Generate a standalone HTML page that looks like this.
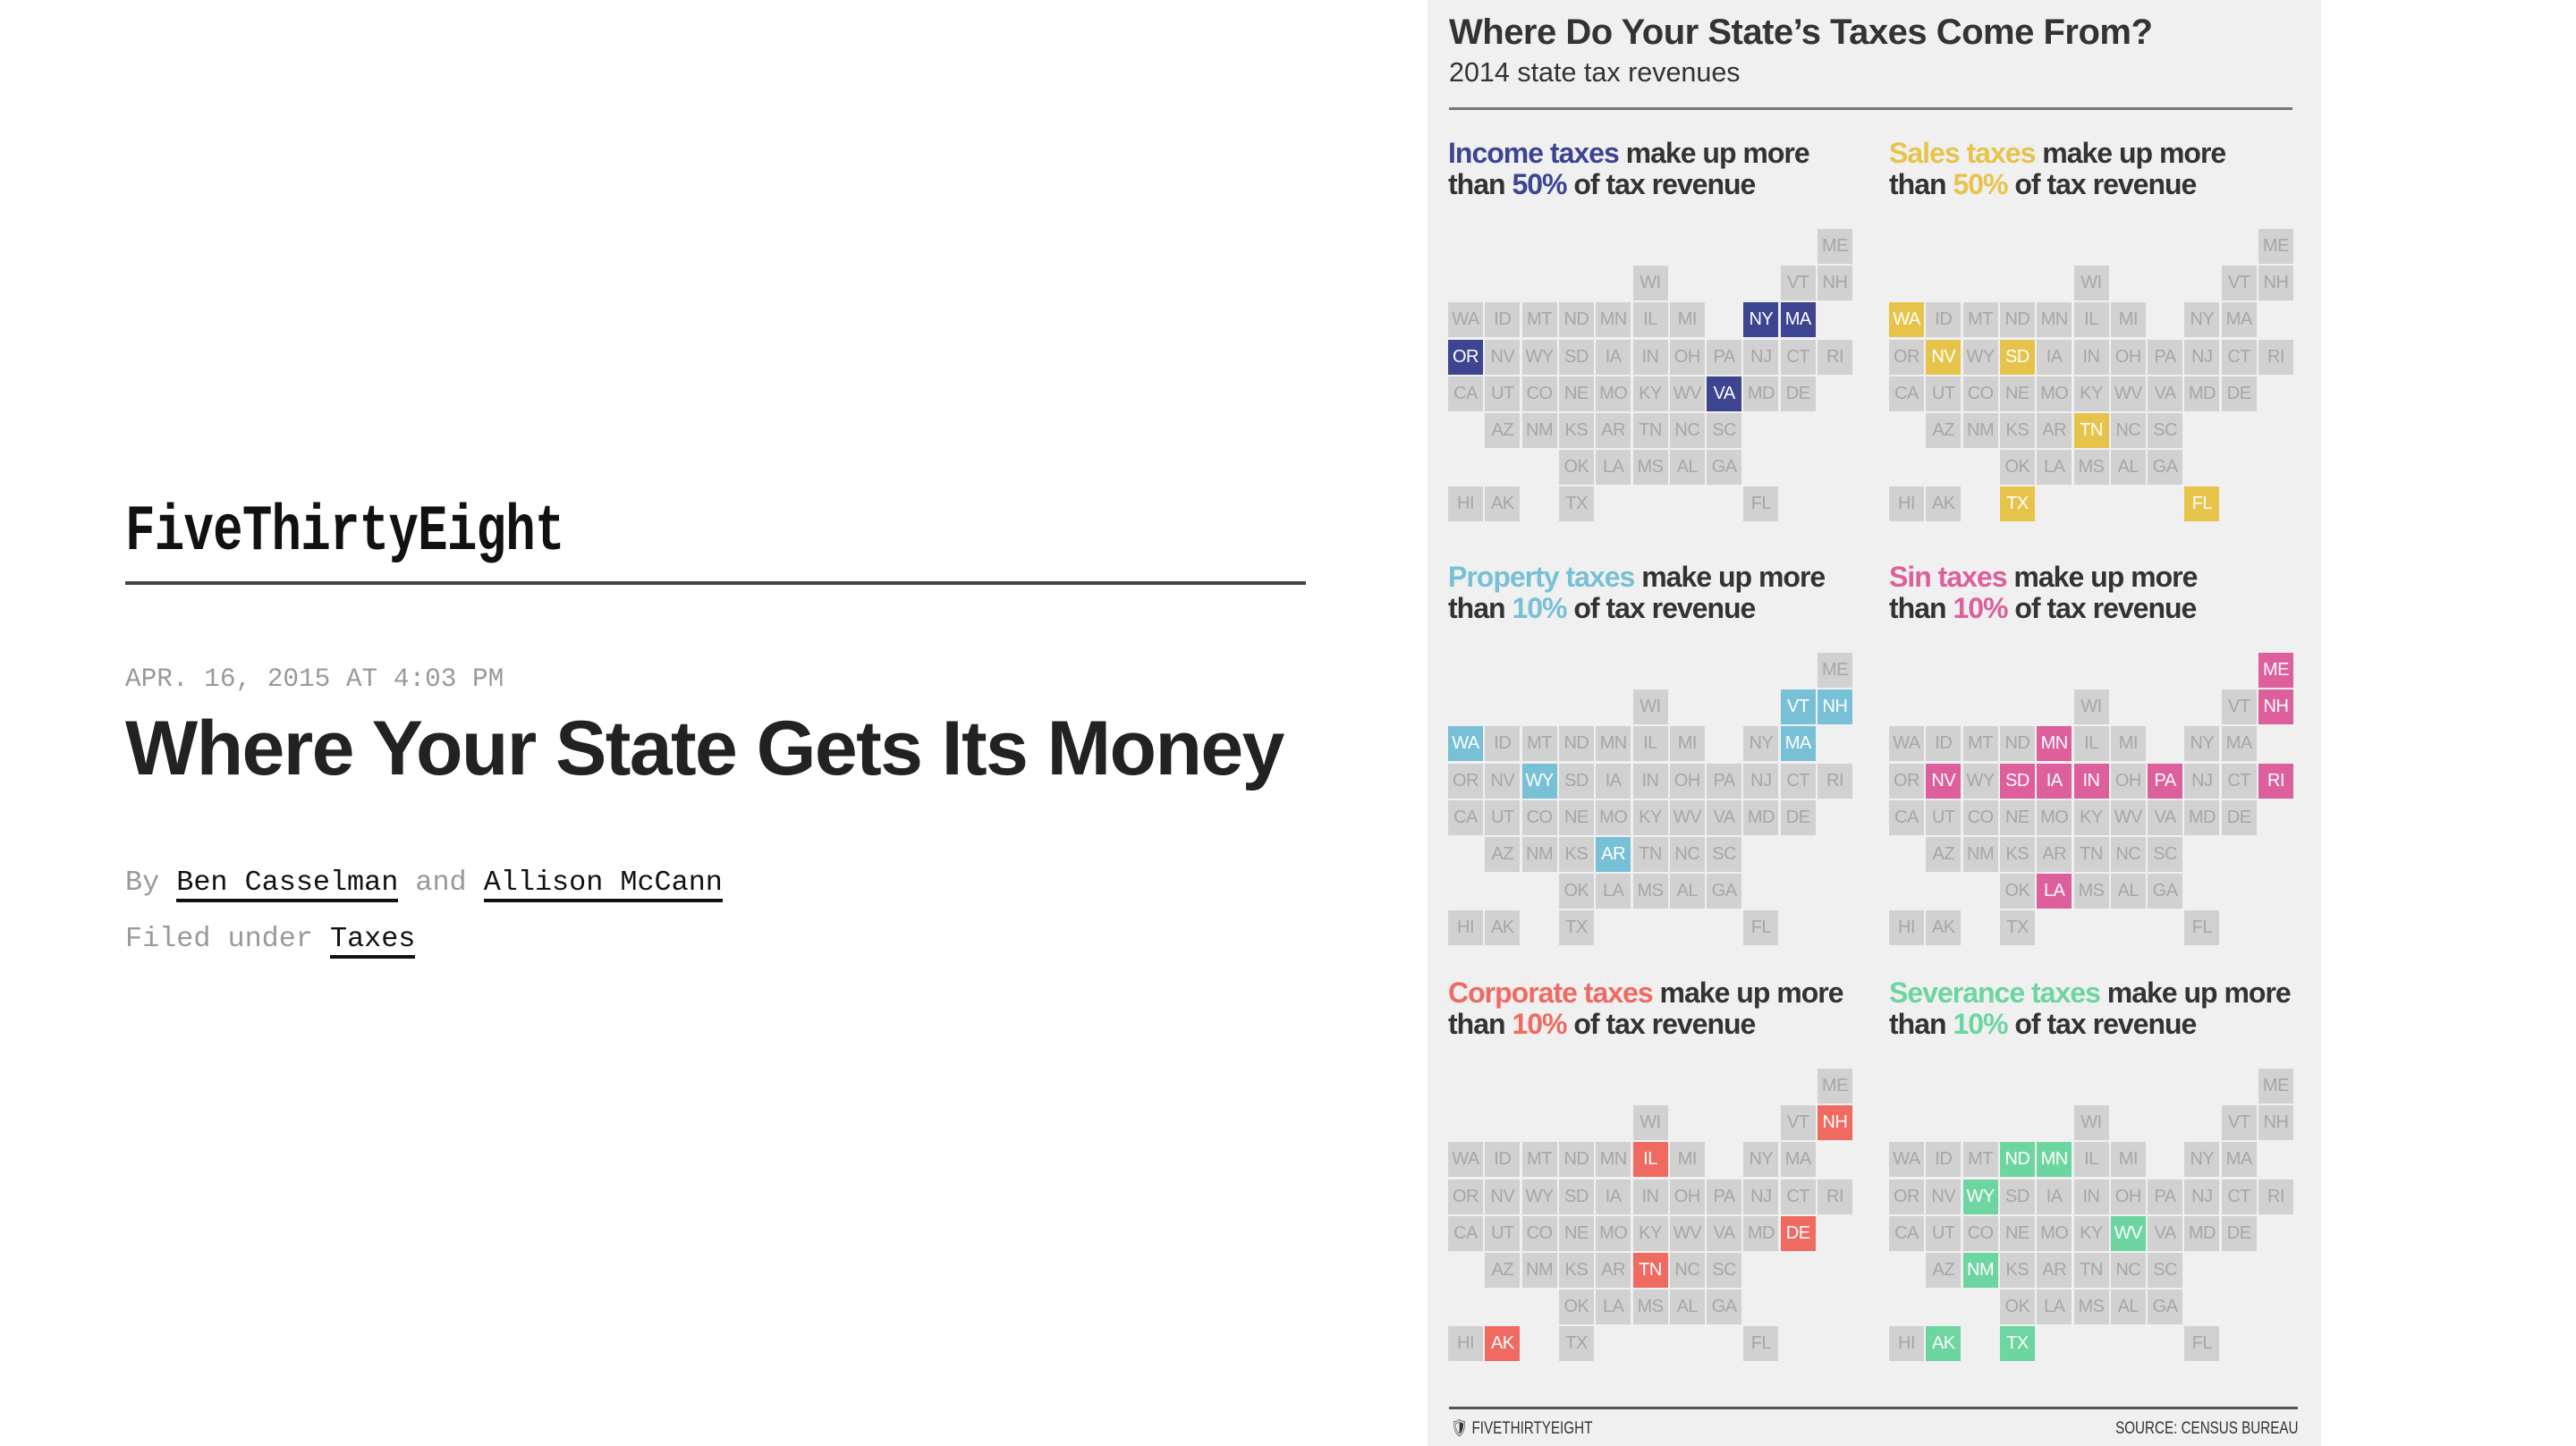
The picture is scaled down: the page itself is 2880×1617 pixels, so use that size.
<!DOCTYPE html>
<html><head><meta charset="utf-8">
<style>
*{margin:0;padding:0;box-sizing:border-box}
body{width:2880px;height:1617px;background:#fff;position:relative;overflow:hidden;font-family:"Liberation Sans",sans-serif}
.a{position:absolute;white-space:nowrap}
.mono{font-family:"Liberation Mono",monospace}
#panel{position:absolute;left:1596px;top:0;width:999px;height:1617px;background:#f0f0f0}
.t{position:absolute;width:39px;height:39px;background:#d1d1d1;color:#a6a6a6;font-size:20px;line-height:39px;text-align:center;letter-spacing:-0.5px}
.h{font-size:32px;line-height:35px;font-weight:bold;color:#333;letter-spacing:-1px}
.u{border-bottom:4px solid #111;color:#111}
</style></head><body>
<div class="a mono" style="left:140px;top:559px;font-size:72px;line-height:72px;font-weight:bold;letter-spacing:-1px;color:#111;transform:scaleX(0.775);transform-origin:left">FiveThirtyEight</div>
<div class="a" style="left:140px;top:650px;width:1320px;height:4px;background:#444"></div>
<div class="a mono" style="left:140px;top:745px;font-size:29.4px;line-height:30px;color:#999">APR. 16, 2015 AT 4:03 PM</div>
<div class="a" style="left:140px;top:792px;font-size:86px;line-height:90px;font-weight:bold;color:#222;letter-spacing:-1.6px">Where Your State Gets Its Money</div>
<div class="a mono" style="left:140px;top:970px;font-size:31.8px;line-height:34px;color:#999">By <span class="u">Ben Casselman</span> and <span class="u">Allison McCann</span></div>
<div class="a mono" style="left:140px;top:1033px;font-size:31.8px;line-height:34px;color:#999">Filed under <span class="u">Taxes</span></div>

<div id="panel"></div>
<div class="a" style="left:1620px;top:14px;font-size:40px;line-height:44px;font-weight:bold;color:#333;letter-spacing:-0.5px">Where Do Your State’s Taxes Come From?</div>
<div class="a" style="left:1620px;top:64px;font-size:30.5px;line-height:34px;color:#333">2014 state tax revenues</div>
<div class="a" style="left:1620px;top:120px;width:943px;height:3px;background:#777"></div>
<div class="a" style="left:1620px;top:1573px;width:949px;height:3px;background:#555"></div>
<div class="a" style="left:1622px;top:1588px;font-size:19px;line-height:20px;color:#333;transform:scaleX(0.8);transform-origin:left">&#x1F6E1;&#xFE0E; FIVETHIRTYEIGHT</div>
<div class="a" style="right:311px;top:1588px;font-size:19px;line-height:20px;color:#333;transform:scaleX(0.8);transform-origin:right">SOURCE: CENSUS BUREAU</div>
<div id="maps"></div>
<script>
var layout=[["ME",0,10],["WI",1,5],["VT",1,9],["NH",1,10],
["WA",2,0],["ID",2,1],["MT",2,2],["ND",2,3],["MN",2,4],["IL",2,5],["MI",2,6],["NY",2,8],["MA",2,9],
["OR",3,0],["NV",3,1],["WY",3,2],["SD",3,3],["IA",3,4],["IN",3,5],["OH",3,6],["PA",3,7],["NJ",3,8],["CT",3,9],["RI",3,10],
["CA",4,0],["UT",4,1],["CO",4,2],["NE",4,3],["MO",4,4],["KY",4,5],["WV",4,6],["VA",4,7],["MD",4,8],["DE",4,9],
["AZ",5,1],["NM",5,2],["KS",5,3],["AR",5,4],["TN",5,5],["NC",5,6],["SC",5,7],
["OK",6,3],["LA",6,4],["MS",6,5],["AL",6,6],["GA",6,7],
["HI",7,0],["AK",7,1],["TX",7,3],["FL",7,8]];
var maps=[
["Income taxes","50%","#3d4591",0,0,["NY","MA","OR","VA"]],
["Sales taxes","50%","#e6c44c",1,0,["WA","NV","SD","TN","TX","FL"]],
["Property taxes","10%","#78c0d6",0,1,["VT","NH","WA","MA","WY","AR"]],
["Sin taxes","10%","#dd5f9b",1,1,["ME","NH","MN","NV","SD","IA","IN","PA","RI","LA"]],
["Corporate taxes","10%","#ef6a61",0,2,["NH","IL","DE","TN","AK"]],
["Severance taxes","10%","#6dd5a0",1,2,["ND","MN","WY","WV","NM","AK","TX"]]];
var off=[0,474,939],h="";
maps.forEach(function(m){
 var x0=m[3]?2112:1619,y0=off[m[4]];
 h+='<div class="a h" style="left:'+x0+'px;top:'+(154+y0)+'px"><span style="color:'+m[2]+'">'+m[0]+'</span> make up more<br>than <span style="color:'+m[2]+'">'+m[1]+'</span> of tax revenue</div>';
 layout.forEach(function(s){
  var on=m[5].indexOf(s[0])>=0;
  h+='<div class="t" style="left:'+(x0+s[2]*41.3).toFixed(1)+'px;top:'+(256+y0+s[1]*41.2).toFixed(1)+'px'+(on?';background:'+m[2]+';color:#fff':'')+'">'+s[0]+'</div>';
 });
});
document.getElementById("maps").innerHTML=h;
</script>
</body></html>
